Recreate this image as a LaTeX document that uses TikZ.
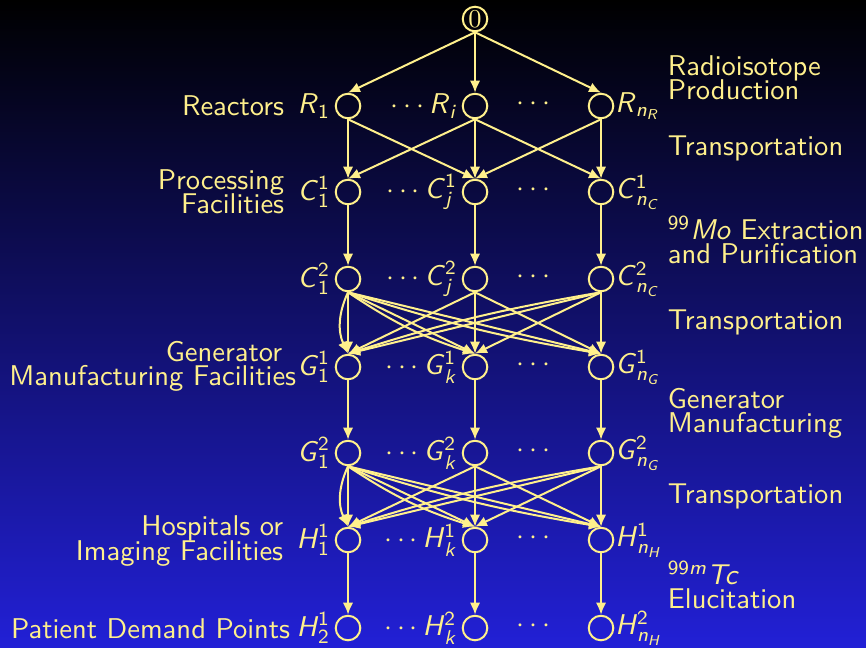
\documentclass[tikz,border=0pt]{standalone}
\usepackage{amsmath}
\usetikzlibrary{arrows.meta}
\renewcommand{\familydefault}{\sfdefault}
\definecolor{ylw}{RGB}{255,240,140}
\definecolor{bgblue}{RGB}{34,32,214}
% sans italic variables with sub/superscripts
\newcommand{\varsb}[2]{\textit{#1}$_{\text{#2}}$}
\newcommand{\varsbsp}[3]{\textit{#1}$^{\text{#3}}_{\text{#2}}$}
\newcommand{\nsb}[1]{\textit{n}$_{\text{\textit{#1}}}$}
\begin{document}
\begin{tikzpicture}[x=0.35pt,y=-0.35pt,color=ylw,line width=0.7pt,
    >={Latex[length=4.2pt,width=3.6pt]},
    st/.style={circle,draw,minimum size=8.6pt,inner sep=0pt},
    every label/.style={inner sep=1.2pt},
    desc/.style={anchor=east,align=right,inner sep=1pt},
    stage/.style={anchor=west,align=left,inner sep=1pt}]
  \useasboundingbox (0,0) rectangle (866,647);
  \shade[top color=black,bottom color=bgblue] (0,0) rectangle (866,647);

  % source
  \node[st] (n0) at (475,19) {\small$0$};
  % reactors
  \node[st,label={left:\varsb{R}{1}}] (r1) at (348,106) {};
  \node[st,label={left:$\cdots$\varsb{R}{\textit{i}}}] (ri) at (475,106) {};
  \node[st,label={[inner sep=0pt]right:\varsb{R}{\nsb{R}}}] (rn) at (601,106) {};
  % processing
  \node[st,label={left:\varsbsp{C}{1}{1}}] (c11) at (348,192) {};
  \node[st,label={left:$\cdots$\varsbsp{C}{\textit{j}}{1}}] (c1j) at (475,192) {};
  \node[st,label={[inner sep=0pt]right:\varsbsp{C}{\nsb{C}}{1}}] (c1n) at (601,192) {};
  \node[st,label={left:\varsbsp{C}{1}{2}}] (c21) at (348,279) {};
  \node[st,label={left:$\cdots$\varsbsp{C}{\textit{j}}{2}}] (c2j) at (475,279) {};
  \node[st,label={[inner sep=0pt]right:\varsbsp{C}{\nsb{C}}{2}}] (c2n) at (601,279) {};
  % generators
  \node[st,label={left:\varsbsp{G}{1}{1}}] (g11) at (348,367) {};
  \node[st,label={left:$\cdots$\varsbsp{G}{\textit{k}}{1}}] (g1k) at (475,367) {};
  \node[st,label={[inner sep=0pt]right:\varsbsp{G}{\nsb{G}}{1}}] (g1n) at (601,367) {};
  \node[st,label={left:\varsbsp{G}{1}{2}}] (g21) at (348,453) {};
  \node[st,label={left:$\cdots$\varsbsp{G}{\textit{k}}{2}}] (g2k) at (475,453) {};
  \node[st,label={[inner sep=0pt]right:\varsbsp{G}{\nsb{G}}{2}}] (g2n) at (601,453) {};
  % hospitals
  \node[st,label={left:\varsbsp{H}{1}{1}}] (h11) at (348,540) {};
  \node[st,label={left:$\cdots$\varsbsp{H}{\textit{k}}{1}}] (h1k) at (475,540) {};
  \node[st,label={[inner sep=0pt]right:\varsbsp{H}{\nsb{H}}{1}}] (h1n) at (601,540) {};
  \node[st,label={left:\varsbsp{H}{2}{1}}] (h21) at (348,628) {};
  \node[st,label={left:$\cdots$\varsbsp{H}{\textit{k}}{2}}] (h2k) at (475,628) {};
  \node[st,label={[inner sep=0pt]right:\varsbsp{H}{\nsb{H}}{2}}] (h2n) at (601,628) {};

  \foreach \y in {104,190,277,365,451,538,626}
    \node at (536,\y) {$\cdots$};

  % left descriptions
  \node[desc] (dR) at (288,106) {Reactors};
  \node[desc] (dC) at (288,192) {Processing\\[-3.5pt]Facilities};
  \node[desc] (dG) at (300,366) {Generator\hspace*{4.9pt}\\[-3.5pt]Manufacturing Facilities};
  \node[desc] (dH) at (287,541) {Hospitals or\\[-3.5pt]Imaging Facilities};
  \node[desc] (dP) at (294,629) {Patient Demand Points};

  % right descriptions
  \node[stage] (sR) at (664,78) {Radioisotope\\[-3.5pt]Production};
  \node[stage] (sT1) at (664,148) {Transportation};
  \node[stage] (sM) at (664,240) {$^{\text{99}}$\textit{Mo} Extraction\\[-3.5pt]and Purification};
  \node[stage] (sT2) at (664,322) {Transportation};
  \node[stage] (sG) at (664,413) {Generator\\[-3.5pt]Manufacturing};
  \node[stage] (sT3) at (664,496) {Transportation};
  \node[stage] (sE) at (664,585) {$^{\text{99\textit{m}}}$\textit{Tc}\\[-3.5pt]Elucitation};

  % edges
  \draw[->] (n0.south) -- (r1.north);
  \draw[->] (n0.south) -- (ri.north);
  \draw[->] (n0.south) -- (rn.north);
  \draw[->] (r1.south) -- (c11.north);
  \draw[->] (r1.south) -- (c1j.north);
  \draw[->] (ri.south) -- (c11.north);
  \draw[->] (ri.south) -- (c1j.north);
  \draw[->] (ri.south) -- (c1n.north);
  \draw[->] (rn.south) -- (c1j.north);
  \draw[->] (rn.south) -- (c1n.north);
  \foreach \a/\b in {c11/c21,c1j/c2j,c1n/c2n,g11/g21,g1k/g2k,g1n/g2n,h11/h21,h1k/h2k,h1n/h2n}
    \draw[->] (\a.south) -- (\b.north);

  \draw[->] (c21.south) -- (g11.north);
  \draw[->] (c21.south) to[bend right=25] (g11.north);
  \draw[->] (c21.south) -- (g1k.north);
  \draw[->] (c21.south) to[bend right=8] (g1k.north);
  \draw[->] (c21.south) -- (g1n.north);
  \draw[->] (c21.south) to[bend right=4] (g1n.north);
  \draw[->] (c2j.south) -- (g11.north);
  \draw[->] (c2j.south) -- (g1k.north);
  \draw[->] (c2j.south) -- (g1n.north);
  \draw[->] (c2n.south) -- (g11.north);
  \draw[->] (c2n.south) to[bend right=4] (g11.north);
  \draw[->] (c2n.south) -- (g1k.north);
  \draw[->] (c2n.south) -- (g1n.north);

  \draw[->] (g21.south) -- (h11.north);
  \draw[->] (g21.south) to[bend right=25] (h11.north);
  \draw[->] (g21.south) -- (h1k.north);
  \draw[->] (g21.south) to[bend right=8] (h1k.north);
  \draw[->] (g21.south) -- (h1n.north);
  \draw[->] (g21.south) to[bend right=4] (h1n.north);
  \draw[->] (g2k.south) -- (h11.north);
  \draw[->] (g2k.south) -- (h1k.north);
  \draw[->] (g2k.south) -- (h1n.north);
  \draw[->] (g2n.south) -- (h11.north);
  \draw[->] (g2n.south) to[bend right=4] (h11.north);
  \draw[->] (g2n.south) -- (h1k.north);
  \draw[->] (g2n.south) -- (h1n.north);
\end{tikzpicture}
\end{document}
